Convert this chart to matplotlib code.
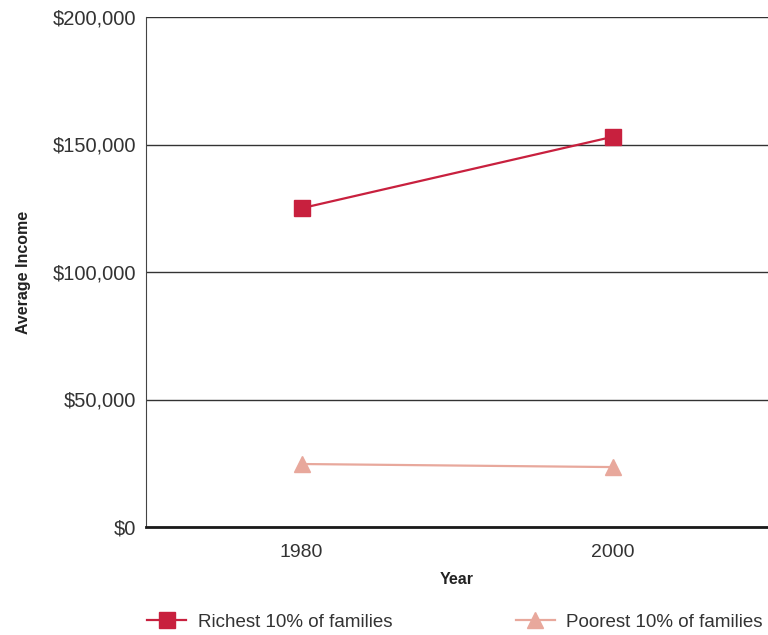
import matplotlib
matplotlib.use("Agg")
import matplotlib.pyplot as plt
from matplotlib.ticker import FuncFormatter

years = [1980, 2000]
richest = [125000, 153000]
poorest = [24700, 23500]
y_ticks = [0, 50000, 100000, 150000, 200000]

plt.rcParams['font.family'] = ['Liberation Sans', 'DejaVu Sans']

fig = plt.figure(figsize=(7.68, 6.35), dpi=100)
ax = fig.add_axes([146 / 768, 1 - 527 / 635, 1 - 146 / 768, 510 / 635])

ax.plot(years, richest, color='#C8203E', lw=1.6, marker='s', ms=11,
        label='Richest 10% of families', zorder=3)
ax.plot(years, poorest, color='#E8A89C', lw=1.6, marker='^', ms=12,
        label='Poorest 10% of families', zorder=3)

ax.set_xlim(1970, 2010)
ax.set_ylim(0, 200000)
ax.set_xticks(years)
ax.set_yticks(y_ticks)
ax.yaxis.set_major_formatter(FuncFormatter(lambda v, p: '${:,.0f}'.format(v)))
ax.grid(axis='y', color='#333333', lw=1)
ax.set_axisbelow(True)

for s in ['top', 'right']:
    ax.spines[s].set_visible(False)
ax.spines['left'].set_color('#444444')
ax.spines['bottom'].set_color('#1a1a1a')
ax.spines['bottom'].set_linewidth(2)

ax.tick_params(axis='y', length=0, labelsize=14.5, labelcolor='#333333', pad=7)
ax.tick_params(axis='x', length=0, labelsize=14, labelcolor='#333333', pad=12)

ax.set_xlabel('Year', fontsize=11.5, fontweight='bold', color='#222222', labelpad=8)
ax.set_ylabel('Average Income', fontsize=11.5, fontweight='bold', color='#222222', labelpad=16)

fig.legend(loc='center left', bbox_to_anchor=(130 / 768, 1 - 622 / 635), ncol=2, frameon=False,
           fontsize=13.5, handlelength=2.1, handletextpad=0.6, columnspacing=6.6,
           labelcolor='#333333')

fig.savefig('out.png', dpi=100)
